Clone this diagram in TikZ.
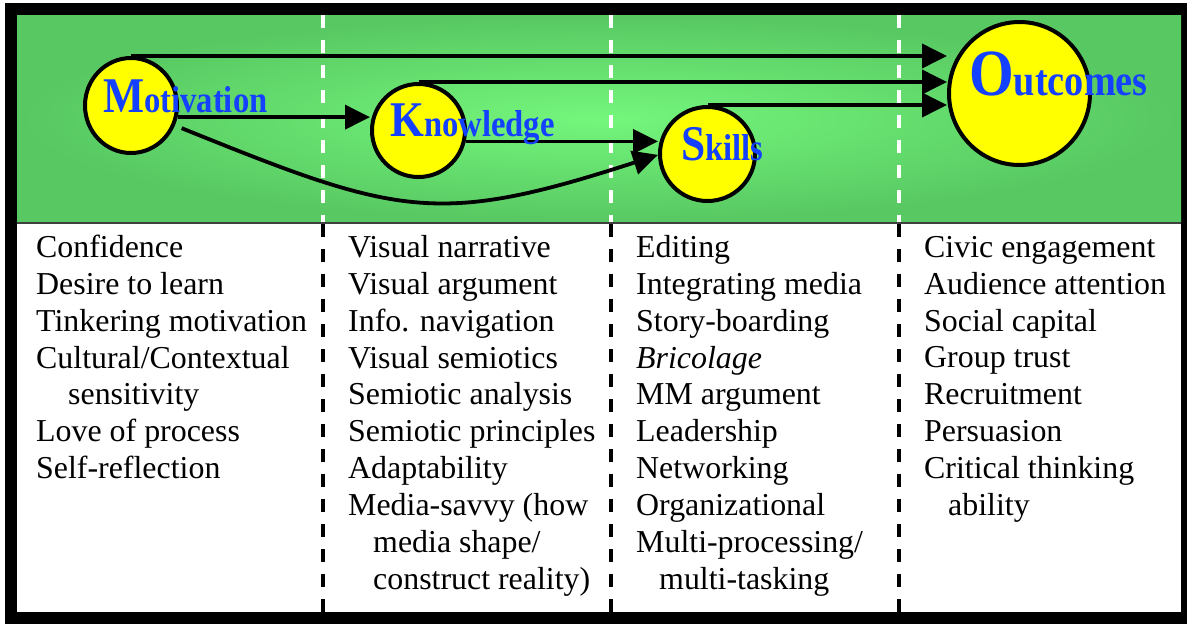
\documentclass[tikz,border=0pt]{standalone}
\usepackage{fontspec}
\usepackage{graphicx}
\setmainfont{Liberation Serif}
\usetikzlibrary{arrows.meta,shapes.geometric}
\definecolor{lblblue}{RGB}{20,64,255}
\definecolor{gedge}{RGB}{88,200,98}
\definecolor{gcenter}{RGB}{116,246,124}
\definecolor{circ}{RGB}{255,255,0}
\begin{document}
\begin{tikzpicture}[x=1pt,y=-1pt,
  bubble/.style={ellipse, draw=black, line width=4pt, fill=circ, inner sep=0pt},
  lbl/.style={anchor=base west, inner sep=0pt, text=lblblue, font=\bfseries},
  arr/.style={line width=3.8pt, -{Triangle[length=25pt,width=24pt]}},
  coltext/.style={anchor=base west, inner sep=0pt, align=left, font=\fontsize{31.9}{36.83}\selectfont},
  sepline/.style={line width=4pt, dash pattern=on 13pt off 12pt}
]
\useasboundingbox (0,0) rectangle (1187,624);
\fill[white] (0,0) rectangle (1187,624);
\fill[black] (5,3) rectangle (1187,624);
\shade[inner color=gcenter, outer color=gedge] (17,15) rectangle (1181,222);
\fill[white] (17,224) rectangle (1181,612);
\draw[line width=2pt, black!75] (17,223) -- (1181,223);
\foreach \xx in {323,611,899}{
  \draw[sepline, white] (\xx,15) -- (\xx,222);
  \draw[sepline, black] (\xx,224) -- (\xx,612);
}
% bubbles
\node[bubble, minimum width=92pt, minimum height=95pt] (mot) at (131,105.5) {};
\node[bubble, minimum width=93pt, minimum height=93pt] (kno) at (418.5,130.5) {};
\node[bubble, minimum width=95pt, minimum height=94pt] (ski) at (707.5,154) {};
\node[bubble, minimum width=141pt, minimum height=143pt] (out) at (1019.5,93.5) {};
% connectors
\draw[arr] (mot.north) -- (mot.north -| out.west);
\draw[arr] (kno.north) -- (kno.north -| out.west);
\draw[arr] (ski.north) -- (ski.north -| out.west);
\draw[arr] (mot.-14) -- (mot.-14 -| kno.west);
\draw[arr] (kno.-13) -- (kno.-13 -| ski.west);
\draw[arr] ([xshift=8pt]mot.-28) to[out=-22,in=198,looseness=1.25] (ski.181);
% labels
\node[lbl] (motL) at (103,112) {\scalebox{0.87}[1]{\fontsize{50}{50}\selectfont M\fontsize{37.5}{37.5}\selectfont otivation}};
\node[lbl] (knoL) at (390,136) {\scalebox{0.87}[1]{\fontsize{50}{50}\selectfont K\fontsize{37.5}{37.5}\selectfont nowledge}};
\node[lbl] (skiL) at (681,160) {\scalebox{0.87}[1]{\fontsize{50}{50}\selectfont S\fontsize{37.5}{37.5}\selectfont kills}};
\node[lbl] (outL) at (969,95) {\scalebox{0.87}[1]{\fontsize{66}{66}\selectfont O\fontsize{44}{44}\selectfont utcomes}};
% columns (base anchor = baseline of last line)
\node[coltext] (c1) at (36,478.5) {Confidence\\Desire to learn\\Tinkering motivation\\Cultural/Contextual\\\hspace*{32pt}sensitivity\\Love of process\\Self-reflection};
\node[coltext] (c2) at (348,589) {Visual narrative\\Visual argument\\Info. navigation\\Visual semiotics\\Semiotic analysis\\Semiotic principles\\Adaptability\\Media-savvy (how\\\hspace*{25pt}media shape/\\\hspace*{25pt}construct reality)};
\node[coltext] (c3) at (636,589) {Editing\\Integrating media\\Story-boarding\\\textit{Bricolage}\\MM argument\\Leadership\\Networking\\Organizational\\Multi-processing/\\\hspace*{23pt}multi-tasking};
\node[coltext] (c4) at (924,515.3) {Civic engagement\\Audience attention\\Social capital\\Group trust\\Recruitment\\Persuasion\\Critical thinking\\\hspace*{24pt}ability};
\end{tikzpicture}
\end{document}
